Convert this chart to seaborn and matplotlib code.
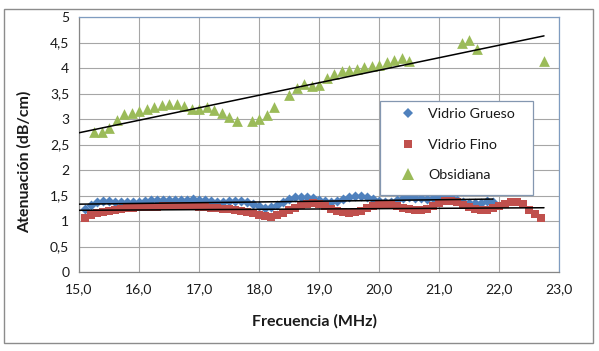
import matplotlib
matplotlib.use("Agg")
import matplotlib.pyplot as plt
import seaborn as sns
from matplotlib.patches import Rectangle
from matplotlib.lines import Line2D
from matplotlib.ticker import FuncFormatter, MultipleLocator

# ---------------- data ----------------
frecuencia_vidrio = [15.1, 15.2, 15.3, 15.4, 15.5, 15.6, 15.7, 15.8, 15.9, 16.0,
                     16.1, 16.2, 16.3, 16.4, 16.5, 16.6, 16.7, 16.8, 16.9, 17.0,
                     17.1, 17.2, 17.3, 17.4, 17.5, 17.6, 17.7, 17.8, 17.9, 18.0,
                     18.1, 18.2, 18.3, 18.4, 18.5, 18.6, 18.7, 18.8, 18.9, 19.0,
                     19.1, 19.2, 19.3, 19.4, 19.5, 19.6, 19.7, 19.8, 19.9, 20.0,
                     20.1, 20.2, 20.3, 20.4, 20.5, 20.6, 20.7, 20.8, 20.9, 21.0,
                     21.1, 21.2, 21.3, 21.4, 21.5, 21.6, 21.7, 21.8, 21.9, 22.0,
                     22.1, 22.2, 22.3, 22.4, 22.5, 22.6, 22.7]

vidrio_grueso = [1.24, 1.31, 1.37, 1.40, 1.39, 1.38, 1.38, 1.37, 1.38, 1.38,
                 1.40, 1.41, 1.42, 1.42, 1.41, 1.42, 1.41, 1.42, 1.43, 1.42,
                 1.41, 1.39, 1.38, 1.37, 1.39, 1.40, 1.40, 1.38, 1.34, 1.29,
                 1.26, 1.27, 1.31, 1.37, 1.43, 1.48, 1.48, 1.47, 1.45, 1.42,
                 1.39, 1.38, 1.40, 1.43, 1.47, 1.49, 1.50, 1.47, 1.43, 1.39,
                 1.37, 1.38, 1.42, 1.46, 1.47, 1.46, 1.45, 1.44, 1.46, 1.48,
                 1.49, 1.47, 1.42, 1.38, 1.36, 1.35, 1.36, 1.39, 1.37]

vidrio_fino = [1.05, 1.12, 1.15, 1.18, 1.20, 1.22, 1.24, 1.25, 1.26, 1.27,
               1.27, 1.28, 1.28, 1.29, 1.29, 1.29, 1.29, 1.29, 1.29, 1.28,
               1.27, 1.26, 1.25, 1.24, 1.23, 1.22, 1.20, 1.18, 1.15, 1.12,
               1.09, 1.08, 1.11, 1.16, 1.21, 1.26, 1.31, 1.34, 1.35, 1.33,
               1.29, 1.24, 1.20, 1.17, 1.16, 1.17, 1.20, 1.25, 1.30, 1.33,
               1.34, 1.33, 1.30, 1.26, 1.23, 1.21, 1.21, 1.24, 1.30, 1.36,
               1.40, 1.40, 1.37, 1.32, 1.27, 1.23, 1.21, 1.22, 1.26, 1.30,
               1.34, 1.37, 1.37, 1.33, 1.22, 1.13, 1.05]

frecuencia_obsidiana = [15.25, 15.375, 15.5, 15.625, 15.75, 15.875, 16.0, 16.125,
                        16.25, 16.375, 16.5, 16.625, 16.75, 16.875, 17.0, 17.125,
                        17.25, 17.375, 17.5, 17.625, 17.875, 18.0, 18.125, 18.25,
                        18.5, 18.625, 18.75, 18.875, 19.0, 19.125, 19.25, 19.375,
                        19.5, 19.625, 19.75, 19.875, 20.0, 20.125, 20.25, 20.375,
                        20.5, 21.375, 21.5, 21.625, 22.75]
obsidiana = [2.75, 2.74, 2.83, 2.99, 3.09, 3.12, 3.16, 3.20,
             3.23, 3.27, 3.30, 3.30, 3.25, 3.19, 3.20, 3.24,
             3.18, 3.12, 3.04, 2.97, 2.97, 3.00, 3.08, 3.24,
             3.48, 3.61, 3.68, 3.65, 3.67, 3.80, 3.89, 3.95,
             3.97, 3.99, 4.02, 4.03, 4.05, 4.11, 4.16, 4.20,
             4.14, 4.50, 4.54, 4.37, 4.14]

# linear trend lines (end points)
tend_grueso_x = [15.0, 21.9]
tend_grueso_y = [1.33, 1.43]
tend_fino_x = [15.0, 22.75]
tend_fino_y = [1.21, 1.26]
tend_obs_x = [15.0, 22.75]
tend_obs_y = [2.73, 4.63]

etiquetas = ["Vidrio Grueso", "Vidrio Fino", "Obsidiana"]
colores = ["#4F81BD", "#C0504D", "#9BBB59"]

# ---------------- styling ----------------
sns.set_style("white")
plt.rcParams["font.family"] = ["Lato", "DejaVu Sans"]

W, H = 599, 351
fig = plt.figure(figsize=(W / 100, H / 100), dpi=100)
ax = fig.add_axes([79 / W, 1 - 272 / H, 480 / W, 255 / H])

n_g = len(vidrio_grueso)
sns.scatterplot(x=frecuencia_vidrio[:n_g], y=vidrio_grueso, marker="D", s=26,
                color=colores[0], linewidth=0, ax=ax, zorder=3)
sns.scatterplot(x=frecuencia_vidrio, y=vidrio_fino, marker="s", s=38,
                color=colores[1], linewidth=0, ax=ax, zorder=4)
sns.scatterplot(x=frecuencia_obsidiana, y=obsidiana, marker="^", s=60,
                color=colores[2], linewidth=0, ax=ax, zorder=5)

for tx, ty in [(tend_grueso_x, tend_grueso_y), (tend_fino_x, tend_fino_y),
               (tend_obs_x, tend_obs_y)]:
    sns.lineplot(x=tx, y=ty, color="black", linewidth=1.1, ax=ax, zorder=6)

ax.set_xlim(15, 23)
ax.set_ylim(0, 5)
ax.xaxis.set_major_locator(MultipleLocator(1))
ax.yaxis.set_major_locator(MultipleLocator(0.5))
ax.xaxis.set_major_formatter(FuncFormatter(lambda v, p: f"{v:.1f}".replace(".", ",")))
ax.yaxis.set_major_formatter(FuncFormatter(lambda v, p: f"{v:g}".replace(".", ",")))

ax.grid(True, color="#A6A6A6", linewidth=0.8)
ax.set_axisbelow(True)
for side in ["left", "bottom"]:
    ax.spines[side].set_color("#868686")
    ax.spines[side].set_linewidth(0.9)
for side in ["top", "right"]:
    ax.spines[side].set_color("#7F9CC0")
    ax.spines[side].set_linewidth(0.9)

ax.tick_params(axis="both", direction="out", length=4, width=0.8,
               color="#868686", labelsize=10, labelcolor="#1a1a1a", pad=3)
ax.tick_params(axis="x", pad=4)

ax.set_xlabel("Frecuencia (MHz)", fontsize=11.5, fontweight="bold", color="#1a1a1a")
ax.set_ylabel("Atenuación (dB/cm)", fontsize=11.5, fontweight="bold", color="#1a1a1a")
ax.xaxis.set_label_coords((314.5 - 79) / 480, (272 - 321) / 255)
ax.yaxis.set_label_coords((24 - 79) / 480, (272 - 162) / 255)
ax.xaxis.label.set_verticalalignment("center")
ax.yaxis.label.set_verticalalignment("center")

# outer chart border
fig.add_artist(Rectangle((3.5 / W, 1 - 342.5 / H), 589 / W, 334 / H,
                         transform=fig.transFigure, facecolor="none",
                         edgecolor="#8C8C8C", linewidth=1.0, zorder=0))

# legend box
fig.add_artist(Rectangle((379.5 / W, 1 - 194.5 / H), 153 / W, 94 / H,
                         transform=fig.transFigure, facecolor="white",
                         edgecolor="#8497B0", linewidth=0.9, zorder=2))
handles = [
    Line2D([], [], linestyle="none", marker="D", markersize=5.2,
           markerfacecolor=colores[0], markeredgewidth=0),
    Line2D([], [], linestyle="none", marker="s", markersize=6.2,
           markerfacecolor=colores[1], markeredgewidth=0),
    Line2D([], [], linestyle="none", marker="^", markersize=8,
           markerfacecolor=colores[2], markeredgewidth=0),
]
fig.legend(handles, etiquetas, loc="upper left",
           bbox_to_anchor=(387 / W, 1 - 96 / H), frameon=False,
           fontsize=10.3, handlelength=1.2, handletextpad=0.85,
           labelspacing=1.3, borderpad=0.35, labelcolor="#1a1a1a")

fig.savefig("out.png", dpi=100)
